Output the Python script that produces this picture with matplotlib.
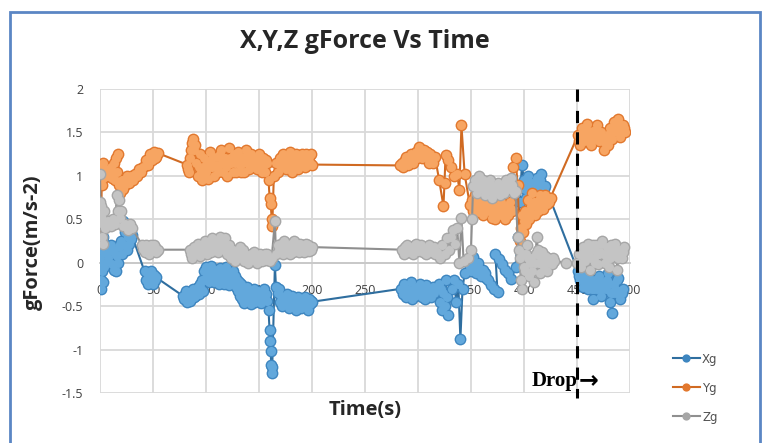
import matplotlib
matplotlib.use("Agg")
import matplotlib.pyplot as plt
from matplotlib.patches import Rectangle

# ---- data: (time s, gForce) ----
xg_points = [
    (0, 0.05), (0.3, 0.28), (0.6, -0.2), (1, 0.15), (1.3, -0.3), (1.6, 0.22), (2, -0.1),
    (2.4, 0.3), (2.8, 0.0), (3.2, -0.22), (3.6, 0.12), (4, -0.05), (4.5, 0.2), (5, 0.0),
    (7, 0.1), (8, 0.05), (9, 0.15), (10, 0.2), (11, -0.02), (12, 0.15), (13, -0.08),
    (14, 0.1), (15, -0.1), (16, 0.08), (17, 0.0), (18, 0.18),
    (19, 0.22), (20, 0.25), (21, 0.1), (22, 0.48), (23, 0.2), (24, 0.35), (25, 0.15),
    (26, 0.3), (27, 0.22), (28, 0.34), (29, 0.27), (30, 0.32),
    (42, -0.1), (43, -0.2), (44, -0.12), (45, -0.25), (46, -0.15), (47, -0.22), (48, -0.1),
    (49, -0.18), (50, -0.24), (51, -0.14), (52, -0.2), (53, -0.17),
    (78, -0.38), (79, -0.42), (80, -0.4), (81, -0.33), (82, -0.45), (83, -0.4), (84, -0.36),
    (85, -0.44), (86, -0.42), (87, -0.35), (88, -0.3), (89, -0.4), (90, -0.38), (91, -0.33),
    (92, -0.28), (93, -0.36), (94, -0.25), (95, -0.3), (96, -0.2), (97, -0.32),
    (98, -0.1), (99, -0.2), (100, -0.05), (101, -0.15), (102, -0.08), (103, -0.22),
    (104, -0.12), (105, -0.04), (106, -0.16), (107, -0.1), (108, -0.22), (109, -0.08),
    (110, -0.18), (111, -0.12), (112, -0.25), (113, -0.06), (114, -0.15), (115, -0.2),
    (116, -0.1), (117, -0.24), (118, -0.14), (119, -0.05), (120, -0.18), (121, -0.12),
    (122, -0.26), (123, -0.15), (124, -0.2), (125, -0.1), (126, -0.22),
    (127, -0.15), (128, -0.28), (129, -0.2), (130, -0.32), (131, -0.22), (132, -0.38),
    (133, -0.25), (134, -0.42), (135, -0.3), (136, -0.46), (137, -0.34), (138, -0.4),
    (139, -0.28), (140, -0.44), (141, -0.35), (142, -0.48), (143, -0.38), (144, -0.42),
    (145, -0.3), (146, -0.45), (147, -0.36), (148, -0.4), (149, -0.32), (150, -0.44),
    (151, -0.38), (152, -0.46), (153, -0.35), (154, -0.42), (155, -0.3), (156, -0.4),
    (157, -0.36), (158, -0.44),
    (159, -0.55), (160, -0.78), (160.5, -0.9), (161, -1.02), (161.5, -1.18), (162, -1.27),
    (162.5, -1.2), (165, -0.03), (166, -0.28),
    (168, -0.35), (169, -0.3), (170, -0.45), (171, -0.38), (172, -0.5), (173, -0.44),
    (174, -0.4), (175, -0.48), (176, -0.36), (177, -0.44), (178, -0.52), (179, -0.42),
    (180, -0.48), (181, -0.38), (182, -0.5), (183, -0.42), (184, -0.47), (185, -0.55),
    (186, -0.44), (187, -0.4), (188, -0.5), (189, -0.46), (190, -0.52), (191, -0.42),
    (192, -0.48), (193, -0.4), (194, -0.5), (195, -0.45), (196, -0.55), (197, -0.42),
    (198, -0.48), (199, -0.44), (200, -0.45),
    (284, -0.3), (285.5, -0.36), (287, -0.25), (288.5, -0.4), (290, -0.3), (291.5, -0.35),
    (293, -0.22), (294.5, -0.42), (296, -0.3), (297.5, -0.38), (299, -0.28), (300.5, -0.34),
    (302, -0.24), (303.5, -0.4), (305, -0.32), (306.5, -0.42), (308, -0.26), (309.5, -0.36),
    (311, -0.3), (312.5, -0.4), (314, -0.28), (315.5, -0.35), (317, -0.3),
    (320, -0.25), (321, -0.45), (322, -0.3), (323, -0.55), (324, -0.35), (325, -0.5),
    (326, -0.2), (327, -0.4), (328, -0.6),
    (332, -0.3), (334, -0.2), (336, -0.45), (338, -0.25), (340, -0.88), (342, -0.3), (344, -0.12),
    (348, 0.02), (349, -0.05), (350, -0.1), (351, 0.0), (352, 0.07), (353, -0.02),
    (354, -0.05), (355, -0.12), (356, -0.08), (357, 0.0), (358, -0.06), (359, -0.15),
    (360, -0.1), (361, -0.08), (362, -0.14), (363, -0.12), (364, -0.18),
    (366, -0.2), (369, -0.26), (372, -0.3), (375, -0.34), (373, 0.1), (376, 0.04),
    (379, -0.02), (382, -0.08), (385, -0.12), (388, -0.19),
    (392, -0.05), (394, 0.3), (396, 0.7), (398, 1.12),
    (400, 0.95), (401, 0.85), (402, 0.75), (403, 0.9), (404, 1.0), (405, 0.92), (406, 0.8),
    (407, 0.85), (408, 0.92), (409, 0.78), (410, 0.72), (411, 0.85), (412, 0.98), (413, 0.9),
    (414, 0.85), (415, 0.95), (416, 1.02), (417, 0.9), (418, 0.78), (419, 0.85), (420, 0.88),
    (451, -0.1), (452, -0.15), (453, -0.2), (454, -0.12), (455, -0.18), (456, -0.28),
    (457, -0.2), (458, -0.15), (459, -0.22), (460, -0.3), (461, -0.18), (462, -0.25),
    (463, -0.2), (464, -0.3), (465, -0.42), (466, -0.3), (467, -0.2), (468, -0.25),
    (469, -0.3), (470, -0.22), (471, -0.15), (472, -0.28), (473, -0.38), (474, -0.3),
    (475, -0.22), (476, -0.28), (477, -0.3), (478, -0.2), (479, -0.12), (480, -0.25),
    (481, -0.45), (482, -0.35), (483, -0.58), (484, -0.35), (485, -0.25), (486, -0.3),
    (487, -0.35), (488, -0.2), (489, -0.18), (490, -0.32), (491, -0.42), (492, -0.35),
    (493, -0.3),
]

yg_points = [
    (0, 1.08), (0.4, 0.6), (0.8, 0.38), (1.2, 0.5), (1.6, 0.9), (2, 1.12), (2.5, 0.98),
    (3, 1.15), (4, 1.0), (5, 1.08), (6, 1.0),
    (8, 1.0), (9, 1.05), (10, 1.1), (11, 0.98), (12, 1.02), (13, 1.15), (14, 0.95),
    (15, 1.2), (16, 1.05), (17, 1.25), (18, 0.9), (19, 0.8),
    (21, 0.95), (22, 0.85), (23, 0.88), (24, 0.95), (25, 1.0), (26, 0.92), (27, 0.92),
    (29, 1.0), (31, 0.95), (33, 1.02), (35, 1.0), (37, 1.08),
    (39, 1.05), (41, 1.1), (43, 1.18), (44, 1.12), (45, 1.12), (46, 1.2), (47, 1.25),
    (48, 1.2), (49, 1.18), (50, 1.24), (51, 1.27), (52, 1.2), (53, 1.22), (55, 1.26),
    (82, 1.13), (83, 1.08), (84, 1.05), (85, 1.2), (86, 1.3), (87, 1.38), (88, 1.42),
    (89, 1.3), (90, 1.35), (91, 1.15), (92, 1.0), (93, 1.1), (94, 1.25), (95, 1.05),
    (96, 0.95), (97, 1.1), (98, 1.2), (99, 1.0), (100, 1.05), (101, 1.15), (102, 0.96),
    (103, 1.1), (104, 1.28), (105, 1.18), (106, 1.1), (107, 1.22), (108, 1.0), (109, 1.12),
    (110, 1.22), (111, 1.05), (112, 1.12), (113, 1.25), (114, 1.3), (115, 1.15), (116, 1.05),
    (117, 1.18), (118, 1.2), (119, 1.1), (120, 1.0), (121, 1.15), (122, 1.32), (123, 1.2),
    (124, 1.15), (125, 1.05), (126, 1.25), (127, 1.15), (128, 1.05), (129, 1.18), (130, 1.28),
    (131, 1.2), (132, 1.12), (133, 1.05), (134, 1.22), (135, 1.15), (136, 1.05), (137, 1.2),
    (138, 1.3), (139, 1.22), (140, 1.15), (141, 1.08), (142, 1.25), (143, 1.18), (144, 1.1),
    (145, 1.22), (146, 1.2), (147, 1.12), (148, 1.08), (149, 1.18), (150, 1.25), (151, 1.15),
    (152, 1.12), (153, 1.05), (154, 1.2), (155, 1.12), (156, 1.05), (157, 1.18), (158, 1.15),
    (159, 0.95), (160, 0.75), (161, 0.68), (162, 0.5), (162.5, 0.42), (164, 1.0), (166, 1.15),
    (168, 1.05), (169, 1.15), (170, 1.2), (171, 1.1), (172, 1.1), (173, 1.25), (174, 1.15),
    (175, 1.08), (176, 1.22), (177, 1.12), (178, 1.12), (179, 1.28), (180, 1.18), (181, 1.05),
    (182, 1.15), (183, 1.2), (184, 1.1), (185, 1.25), (186, 1.15), (187, 1.08), (188, 1.2),
    (189, 1.22), (190, 1.12), (191, 1.25), (192, 1.15), (193, 1.1), (194, 1.25), (195, 1.18),
    (196, 1.12), (197, 1.22), (198, 1.15), (199, 1.25), (200, 1.13),
    (283, 1.12), (284.5, 1.15), (286, 1.1), (287.5, 1.18), (289, 1.22), (290.5, 1.12),
    (292, 1.2), (293.5, 1.25), (295, 1.15), (296.5, 1.22), (298, 1.28), (299.5, 1.2),
    (301, 1.33), (302.5, 1.28), (304, 1.2), (305.5, 1.3), (307, 1.22), (308.5, 1.28),
    (310, 1.15), (311.5, 1.25), (313, 1.2), (314.5, 1.15), (316, 1.22),
    (320, 0.95), (324, 0.65), (325, 0.92), (326, 1.24), (328, 1.18), (331, 1.1), (334, 1.0),
    (337, 1.02), (339, 0.84), (341, 1.58), (344, 1.02), (349, 0.66),
    (351, 0.72), (352, 0.6), (353, 0.7), (354, 0.78), (355, 0.65), (356, 0.72), (357, 0.75),
    (358, 0.58), (359, 0.66), (360, 0.7), (361, 0.55), (362, 0.62), (363, 0.72), (364, 0.62),
    (365, 0.68), (366, 0.75), (367, 0.6), (368, 0.66), (369, 0.68), (370, 0.52), (371, 0.6),
    (372, 0.65), (373, 0.5), (374, 0.58), (375, 0.62), (376, 0.55), (377, 0.64), (378, 0.7),
    (379, 0.6), (380, 0.55), (381, 0.65), (382, 0.5), (383, 0.58), (384, 0.62), (385, 0.55),
    (386, 0.6), (387, 0.7), (388, 0.62), (389, 0.6),
    (390, 1.1), (392, 1.2), (394, 0.9),
    (396, 0.25), (397, 0.4), (398, 0.55), (399, 0.35), (400, 0.48), (401, 0.6), (402, 0.45),
    (403, 0.55), (404, 0.72), (405, 0.5), (406, 0.6), (407, 0.65), (408, 0.8), (409, 0.7),
    (410, 0.55), (411, 0.65), (412, 0.7), (413, 0.6), (414, 0.72), (415, 0.78), (416, 0.68),
    (417, 0.75), (418, 0.62), (419, 0.7), (420, 0.78), (421, 0.72), (422, 0.68), (423, 0.75),
    (424, 0.7), (425, 0.75),
    (451, 1.47), (452, 1.4), (453, 1.35), (454, 1.45), (455, 1.55), (456, 1.5), (457, 1.4),
    (458, 1.48), (459, 1.6), (460, 1.52), (461, 1.45), (462, 1.38), (463, 1.35), (464, 1.45),
    (465, 1.52), (466, 1.48), (467, 1.42), (468, 1.5), (469, 1.58), (470, 1.52), (471, 1.4),
    (472, 1.45), (473, 1.5), (474, 1.42), (475, 1.3), (476, 1.38), (477, 1.45), (478, 1.4),
    (479, 1.35), (480, 1.48), (481, 1.55), (482, 1.5), (483, 1.42), (484, 1.55), (485, 1.62),
    (486, 1.58), (487, 1.5), (488, 1.55), (489, 1.65), (490, 1.6), (491, 1.45), (492, 1.52),
    (493, 1.58), (494, 1.55), (495, 1.5),
]

zg_points = [
    (0, 1.02), (0.4, 0.7), (0.8, 0.55), (1.2, 0.65), (1.6, 0.3), (2, 0.5), (2.5, 0.22),
    (3, 0.45), (4, 0.6), (5, 0.4), (6, 0.45),
    (8, 0.48), (9, 0.44), (10, 0.42), (11, 0.46), (12, 0.5), (13, 0.45), (14, 0.44),
    (16, 0.78), (17, 0.6), (18, 0.72), (19, 0.52), (20, 0.6),
    (22, 0.42), (24, 0.45), (26, 0.38), (28, 0.44), (30, 0.4),
    (40, 0.2), (41, 0.16), (42, 0.12), (43, 0.2), (44, 0.18), (45, 0.12), (46, 0.1),
    (47, 0.16), (48, 0.2), (49, 0.15), (50, 0.14), (51, 0.2), (52, 0.18), (53, 0.12), (55, 0.15),
    (85, 0.15), (86, 0.1), (87, 0.05), (88, 0.12), (89, 0.18), (90, 0.1), (91, 0.15),
    (92, 0.22), (93, 0.12), (94, 0.08), (95, 0.15), (96, 0.2), (97, 0.12), (98, 0.18),
    (99, 0.25), (100, 0.15), (101, 0.1), (102, 0.2), (103, 0.22), (104, 0.15), (105, 0.12),
    (106, 0.28), (107, 0.2), (108, 0.18), (109, 0.25), (110, 0.15), (111, 0.12), (112, 0.22),
    (113, 0.3), (114, 0.2), (115, 0.25), (116, 0.18), (117, 0.15), (118, 0.28), (119, 0.2),
    (120, 0.1), (121, 0.18), (122, 0.2), (123, 0.08), (124, 0.05), (125, 0.15), (126, 0.1),
    (127, 0.02), (128, 0.12), (129, 0.08), (130, 0.05), (131, 0.15), (132, 0.18), (133, 0.08),
    (134, 0.12), (135, 0.15), (136, 0.02), (137, 0.1), (138, 0.05), (139, 0.08), (140, 0.0),
    (141, 0.06), (142, 0.1), (143, 0.08), (144, 0.03), (145, 0.12), (146, 0.1), (147, 0.05),
    (148, 0.0), (149, 0.08), (150, 0.04), (151, 0.1), (152, 0.06), (153, 0.02), (154, 0.08),
    (155, 0.05), (156, 0.1), (157, 0.03), (158, 0.1),
    (160, 0.02), (162, 0.06), (165, 0.48), (166, 0.1),
    (168, 0.2), (169, 0.15), (170, 0.12), (171, 0.22), (172, 0.18), (173, 0.1), (174, 0.25),
    (175, 0.2), (176, 0.15), (177, 0.2), (178, 0.12), (179, 0.1), (180, 0.22), (181, 0.18),
    (182, 0.12), (183, 0.25), (184, 0.2), (185, 0.15), (186, 0.22), (187, 0.18), (188, 0.12),
    (189, 0.22), (190, 0.15), (191, 0.2), (192, 0.12), (193, 0.18), (194, 0.22), (195, 0.15),
    (196, 0.2), (197, 0.14), (198, 0.18), (199, 0.15), (200, 0.18),
    (285, 0.15), (286.5, 0.1), (288, 0.18), (289.5, 0.2), (291, 0.12), (292.5, 0.16),
    (294, 0.18), (295.5, 0.1), (297, 0.2), (298.5, 0.22), (300, 0.14), (301.5, 0.18),
    (303, 0.2), (304.5, 0.12), (306, 0.16), (307.5, 0.1), (309, 0.18), (310.5, 0.2),
    (312, 0.12), (313.5, 0.15), (315, 0.18), (316.5, 0.1), (318, 0.12),
    (321, 0.05), (323, 0.2), (325, 0.1), (327, 0.28), (329, 0.15), (331, 0.3), (333, 0.38),
    (335, 0.22), (337, 0.4), (339, 0.0), (341, 0.52), (343, 0.02), (347, 0.05), (350, 0.15),
    (351, 0.5), (352, 0.88),
    (354, 0.95), (355, 0.88), (356, 0.8), (357, 0.92), (358, 1.0), (359, 0.9), (360, 0.85),
    (361, 0.95), (362, 0.9), (363, 0.78), (364, 0.85), (365, 0.9), (366, 0.82), (367, 0.88),
    (368, 0.95), (369, 0.85), (370, 0.75), (371, 0.82), (372, 0.88), (373, 0.8), (374, 0.85),
    (375, 0.92), (376, 0.86), (377, 0.78), (378, 0.82), (379, 0.9), (380, 0.84), (381, 0.8),
    (382, 0.88), (383, 0.95), (384, 0.9), (385, 0.85), (386, 0.88), (387, 0.92), (388, 0.98),
    (389, 0.9), (390, 0.85), (391, 0.8), (392, 0.82),
    (394, 0.3), (395, 0.15), (396, 0.05), (397, -0.2), (398, -0.3), (399, 0.1), (400, -0.05),
    (401, -0.1), (402, 0.1), (403, 0.2), (404, 0.05), (405, -0.15), (406, 0.0), (407, 0.05),
    (408, -0.1), (409, -0.22), (410, 0.0), (411, 0.1), (412, 0.3), (413, 0.15), (414, 0.0),
    (415, -0.12), (416, 0.05), (417, 0.12), (418, 0.0), (419, -0.05), (420, 0.08), (421, 0.02),
    (422, -0.1), (423, 0.05), (424, 0.0), (425, 0.02), (426, -0.02), (427, 0.05), (428, 0.02),
    (440, 0.0), (450, 0.0),
    (452, 0.1), (453, 0.0), (454, -0.05), (455, 0.1), (456, 0.18), (457, 0.05), (458, 0.02),
    (459, 0.15), (460, 0.22), (461, 0.1), (462, -0.08), (463, 0.05), (464, 0.15), (465, 0.2),
    (466, 0.05), (467, 0.0), (468, 0.2), (469, 0.12), (470, -0.02), (471, 0.1), (472, 0.12),
    (473, 0.22), (474, 0.25), (475, 0.1), (476, 0.0), (477, 0.08), (478, 0.18), (479, 0.12),
    (480, -0.05), (481, 0.05), (482, 0.2), (483, 0.15), (484, 0.08), (485, 0.12), (486, 0.22),
    (487, 0.1), (488, -0.08), (489, 0.05), (490, 0.15), (491, 0.1), (492, 0.05), (493, 0.12),
    (494, 0.18),
]

series_names = ["Xg", "Yg", "Zg"]
x_ticks = [0, 50, 100, 150, 200, 250, 300, 350, 400, 450, 500]
y_ticks = [-1.5, -1, -0.5, 0, 0.5, 1, 1.5, 2]
y_tick_labels = ["-1.5", "-1", "-0.5", "0", "0.5", "1", "1.5", "2"]
drop_time = 450

W, H = 782, 443
fig = plt.figure(figsize=(W / 100, H / 100), dpi=100)
ax = fig.add_axes([100 / W, 1 - 393 / H, 530 / W, 304 / H])

# line colour, marker fill, marker outline
colors = [("#2F6E9F", "#62A8DC", "#3E86C0"),
          ("#D06A22", "#F7A562", "#E2782E"),
          ("#8F8F8F", "#C4C4C4", "#A6A6A6")]
handles = []
for name, pts, (lc, fc, ec) in zip(series_names, [xg_points, yg_points, zg_points], colors):
    t = [p[0] for p in pts]
    v = [p[1] for p in pts]
    # outline layer then lighter fill on top, so dense samples merge into blobs
    h, = ax.plot(t, v, color=lc, lw=1.5, marker="o", markersize=8.5,
                 markerfacecolor=ec, markeredgecolor=ec, markeredgewidth=0,
                 label=name, zorder=3)
    ax.plot(t, v, ls="none", marker="o", markersize=6.5,
            markerfacecolor=fc, markeredgewidth=0, zorder=3)
    handles.append(h)

ax.set_xlim(0, 500)
ax.set_ylim(-1.5, 2)
ax.set_xticks(x_ticks)
ax.set_yticks(y_ticks)
ax.set_yticklabels(y_tick_labels)
ax.grid(True, color="#D9D9D9", lw=1.3, zorder=0)
ax.set_axisbelow(True)
for s in ["top", "right", "left"]:
    ax.spines[s].set_visible(False)
ax.spines["bottom"].set_position(("data", 0))
ax.spines["bottom"].set_color("#C8C8C8")
ax.spines["bottom"].set_linewidth(1.3)
ax.tick_params(axis="x", length=0, pad=15, labelsize=9, colors="#404040")
ax.tick_params(axis="y", length=0, pad=12, labelsize=9, colors="#404040")
for lab in ax.get_xticklabels() + ax.get_yticklabels():
    lab.set_fontfamily("Open Sans")

# drop marker
ax.plot([drop_time, drop_time], [2, -1.56], color="black", lw=2.2,
        dashes=(4, 3), clip_on=False, zorder=4)
ax.text(407, -1.36, "Drop", fontsize=15, fontweight="bold",
        family="Liberation Serif", ha="left", va="center", zorder=5)
ax.text(452, -1.35, "\u2192", fontsize=17, fontweight="bold",
        family="DejaVu Sans", ha="left", va="center", zorder=5)

fig.text(365 / W, 1 - 42 / H, "X,Y,Z gForce Vs Time", ha="center", va="center",
         fontsize=18, fontweight="bold", family="Open Sans", color="#262626")
fig.text(33 / W, 1 - 242 / H, "gForce(m/s-2)", ha="center", va="center", rotation=90,
         fontsize=14.5, fontweight="bold", family="Open Sans", color="#262626")
fig.text(365 / W, 1 - 410 / H, "Time(s)", ha="center", va="center",
         fontsize=14.5, fontweight="bold", family="Open Sans", color="#262626")

fig.legend(handles=handles, labels=series_names, loc="upper left",
           bbox_to_anchor=(662 / W, 1 - 342 / H), frameon=False, fontsize=8.5,
           handlelength=2.3, handletextpad=0.2, labelspacing=1.35, markerscale=0.7,
           labelcolor="#505050")

fig.patches.append(Rectangle((10 / W, -0.05), 750 / W, 1.05 - 12 / H, transform=fig.transFigure,
                             fill=False, edgecolor="#5B86C4", lw=2, clip_on=False))

fig.savefig("out.png", dpi=100)
